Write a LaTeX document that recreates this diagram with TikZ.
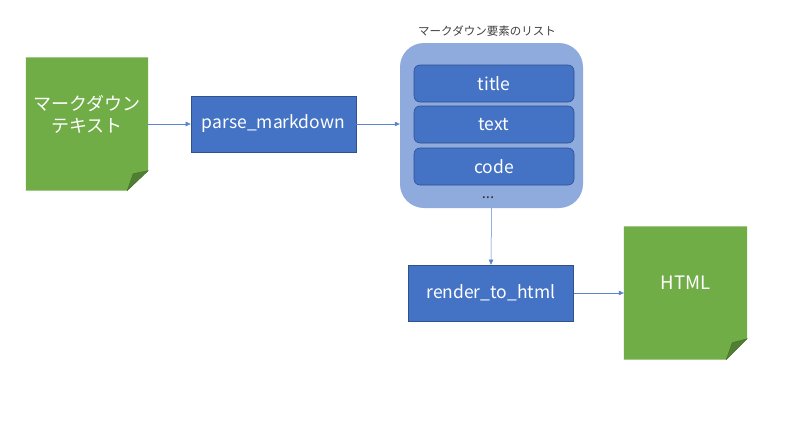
\documentclass[tikz,border=0pt]{standalone}
\usepackage{fontspec}
\setmainfont{Noto Sans CJK JP}
\usetikzlibrary{arrows.meta,calc}
\definecolor{docgreen}{HTML}{70AD47}
\definecolor{folddark}{HTML}{507E32}
\definecolor{procblue}{HTML}{4472C4}
\definecolor{procborder}{HTML}{2F528F}
\definecolor{listfill}{HTML}{8FAADC}
\definecolor{linkblue}{HTML}{5B84CC}
\tikzset{
  docbox/.style={minimum width=122, minimum height=133, inner sep=0},
  doctext/.style={text=white, align=center, font=\fontsize{18}{22}\selectfont},
  proc/.style={draw=procborder, line width=0.6pt, fill=procblue, text=white, minimum width=165, minimum height=56, inner sep=0, font=\fontsize{17.5}{20}\selectfont},
  container/.style={fill=listfill, rounded corners=24pt, minimum width=183, minimum height=165, inner sep=0},
  item/.style={draw=procborder, line width=0.6pt, fill=procblue, rounded corners=6pt, text=white, minimum width=160, minimum height=37, inner sep=0, font=\fontsize{17.5}{20}\selectfont},
  conn/.style={draw=linkblue, line width=0.5pt, -{Triangle[length=5pt,width=4.5pt]}},
  fold/.style={fill=folddark, draw=docgreen!60!black, line width=0.3pt}
}
\begin{document}
\begin{tikzpicture}[x=1pt,y=-1pt]
\useasboundingbox[fill=white] (0,0) rectangle (800,423);

% left document
\node[docbox] (md) at (87,124) {};
\fill[docgreen] (md.north west) -- (md.north east) -- ($(md.south east)+(0,-20)$) -- ($(md.south east)+(-21,0)$) -- (md.south west) -- cycle;
\draw[fold] ($(md.south east)+(0,-20)$) -- ($(md.south east)+(-15,-17)$) -- ($(md.south east)+(-21,0)$) -- cycle;
\node[doctext] (mdtext) at ($(md.center)+(0,-10)$) {マークダウン\\テキスト};

% parse box
\node[proc] (parse) at (273.5,124) {parse\_markdown};

% list container
\node[container] (list) at (491.5,125.5) {};
\node[font=\fontsize{11.5}{13}\selectfont, text=black!75] (listlabel) at (487,31) {マークダウン要素のリスト};
\node[item] (title) at (494,83.5) {title};
\node[item] (text) at (494,124.5) {text};
\node[item] (code) at (494,166.5) {code};
\node[font=\fontsize{15}{16}\selectfont, text=black!80, anchor=base, inner sep=0] (dots) at (488,198) {...};

% render box
\node[proc] (render) at (491,293) {render\_to\_html};

% HTML document
\node[docbox, minimum width=123] (html) at (685.5,293) {};
\fill[docgreen] (html.north west) -- (html.north east) -- ($(html.south east)+(0,-21)$) -- ($(html.south east)+(-21,0)$) -- (html.south west) -- cycle;
\draw[fold] ($(html.south east)+(0,-21)$) -- ($(html.south east)+(-15,-17)$) -- ($(html.south east)+(-21,0)$) -- cycle;
\node[doctext, font=\fontsize{18.5}{22}\selectfont] (htmltext) at ($(html.center)+(0,-10)$) {HTML};

% connectors
\draw[conn] (md.east) -- (parse.west);
\draw[conn] (parse.east) -- (parse.east -| list.west);
\draw[conn] (list.south) -- (render.north);
\draw[conn] (render.east) -- (html.west);
\end{tikzpicture}
\end{document}
